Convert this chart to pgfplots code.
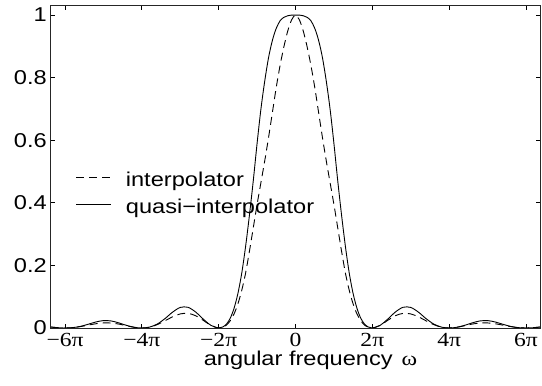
\documentclass[border=0pt]{standalone}
\usepackage{fontspec}
\setmainfont[FakeStretch=1.18]{Liberation Sans}
\newfontfamily\tmsfont[FakeStretch=1.18]{Liberation Serif}
\usepackage{pgfplots}
\pgfplotsset{compat=1.18}
\begin{document}
\begin{tikzpicture}
\begin{axis}[
  scale only axis, width=489bp, height=322bp,
  xmin=-6.366, xmax=6.366, ymin=0, ymax=1.029,
  xtick={-6,-4,-2,0,2,4,6},
  xticklabels={−6π,−4π,−2π,0,2π,4π,6π},
  ytick={0,0.2,0.4,0.6,0.8,1},
  yticklabels={0,0.2,0.4,0.6,0.8,1},
  tick align=inside, major tick length=4bp,
  axis line style={line width=1bp, black!85},
  every tick/.style={black, line width=0.8bp},
  yticklabel style={font=\fontsize{20bp}{24bp}\selectfont, inner sep=0pt, xshift=-4bp},
  xticklabel style={font=\tmsfont\fontsize{20bp}{24bp}\selectfont, yshift=-1.5bp},
  xlabel={angular frequency\hspace{9bp}{\tmsfont ω}},
  xlabel style={font=\fontsize{20bp}{24bp}\selectfont, at={(axis description cs:0.5,0)}, anchor=base, yshift=-37bp, xshift=15bp},
  legend cell align=left,
  legend image code/.code={\draw[#1] (0bp,5bp) -- (35bp,5bp);},
  legend style={at={(0.0511,0.4845)}, anchor=north west, draw=none, fill=none,
    inner sep=0pt, outer sep=0pt, font=\fontsize{20bp}{24bp}\selectfont,
    row sep=7bp, column sep=14bp,
    nodes={inner sep=0pt, text height=15bp, text depth=5bp}},
]
\addplot[black, line width=0.9bp, dash pattern=on 8bp off 5bp, smooth] coordinates {
(-6.366,0.00296) (-6.2,0.00101) (-6.0,0) (-5.8,0.00115) (-5.6,0.00447) (-5.4,0.00910) (-5.2,0.01356) (-5.0,0.01621) (-4.8,0.01591) (-4.6,0.01254) (-4.4,0.00723) (-4.2,0.00219) (-4.0,0)
(-3.8,0.00268) (-3.6,0.01080) (-3.4,0.02295) (-3.2,0.03580) (-3.0,0.04503) (-2.8,0.04676) (-2.6,0.03924) (-2.4,0.02431) (-2.2,0.00800) (-2.0,0)
(-1.9,0.0025) (-1.8,0.009) (-1.7,0.023) (-1.6,0.045) (-1.5,0.077) (-1.4,0.12) (-1.3,0.175) (-1.2,0.245) (-1.1,0.32) (-1.0,0.395) (-0.9,0.465) (-0.8,0.535) (-0.7,0.61) (-0.6,0.69) (-0.5,0.77) (-0.4,0.84) (-0.3,0.90) (-0.2,0.95) (-0.1,0.985) (0,1)
(0.1,0.985) (0.2,0.95) (0.3,0.90) (0.4,0.84) (0.5,0.77) (0.6,0.69) (0.7,0.61) (0.8,0.535) (0.9,0.465) (1.0,0.395) (1.1,0.32) (1.2,0.245) (1.3,0.175) (1.4,0.12) (1.5,0.077) (1.6,0.045) (1.7,0.023) (1.8,0.009) (1.9,0.0025) (2.0,0)
(2.2,0.00800) (2.4,0.02431) (2.6,0.03924) (2.8,0.04676) (3.0,0.04503) (3.2,0.03580) (3.4,0.02295) (3.6,0.01080) (3.8,0.00268) (4.0,0)
(4.2,0.00219) (4.4,0.00723) (4.6,0.01254) (4.8,0.01591) (5.0,0.01621) (5.2,0.01356) (5.4,0.00910) (5.6,0.00447) (5.8,0.00115) (6.0,0) (6.2,0.00101) (6.366,0.00296)
};
\addlegendentry{interpolator}
\addplot[black, line width=0.9bp, smooth] coordinates {
(-6.366,0.00336) (-6.2,0.00105) (-6,0) (-5.8,0.00120) (-5.6,0.00517) (-5.4,0.01184) (-5.2,0.01920) (-5.0,0.02367) (-4.8,0.02253) (-4.6,0.01631) (-4.4,0.00838) (-4.2,0.00229) (-4,0)
(-3.8,0.00280) (-3.6,0.01252) (-3.4,0.02986) (-3.2,0.05069) (-3.0,0.06574) (-2.8,0.06621) (-2.6,0.05105) (-2.4,0.02818) (-2.2,0.00835) (-2,0)
(-1.9,0.003) (-1.8,0.012) (-1.7,0.031) (-1.6,0.063) (-1.5,0.11) (-1.4,0.175) (-1.3,0.26) (-1.2,0.36) (-1.1,0.47) (-1.0,0.59) (-0.9,0.70) (-0.8,0.79) (-0.7,0.865) (-0.6,0.92) (-0.5,0.958) (-0.4,0.982) (-0.3,0.993) (-0.2,0.998) (-0.1,1.0) (0,1.0)
(0.1,1.0) (0.2,0.998) (0.3,0.993) (0.4,0.982) (0.5,0.958) (0.6,0.92) (0.7,0.865) (0.8,0.79) (0.9,0.70) (1.0,0.59) (1.1,0.47) (1.2,0.36) (1.3,0.26) (1.4,0.175) (1.5,0.11) (1.6,0.063) (1.7,0.031) (1.8,0.012) (1.9,0.003) (2,0)
(2.2,0.00835) (2.4,0.02818) (2.6,0.05105) (2.8,0.06621) (3.0,0.06574) (3.2,0.05069) (3.4,0.02986) (3.6,0.01252) (3.8,0.00280) (4,0)
(4.2,0.00229) (4.4,0.00838) (4.6,0.01631) (4.8,0.02253) (5.0,0.02367) (5.2,0.01920) (5.4,0.01184) (5.6,0.00517) (5.8,0.00120) (6,0) (6.2,0.00105) (6.366,0.00336)
};
\addlegendentry{quasi−interpolator}
\coordinate (bl) at (rel axis cs:0,0);
\coordinate (tr) at (rel axis cs:1,1);
\end{axis}
\pgfresetboundingbox
\path[use as bounding box] ([shift={(-51bp,-58bp)}]bl) rectangle ([shift={(2bp,6bp)}]tr);
\end{tikzpicture}
\end{document}
